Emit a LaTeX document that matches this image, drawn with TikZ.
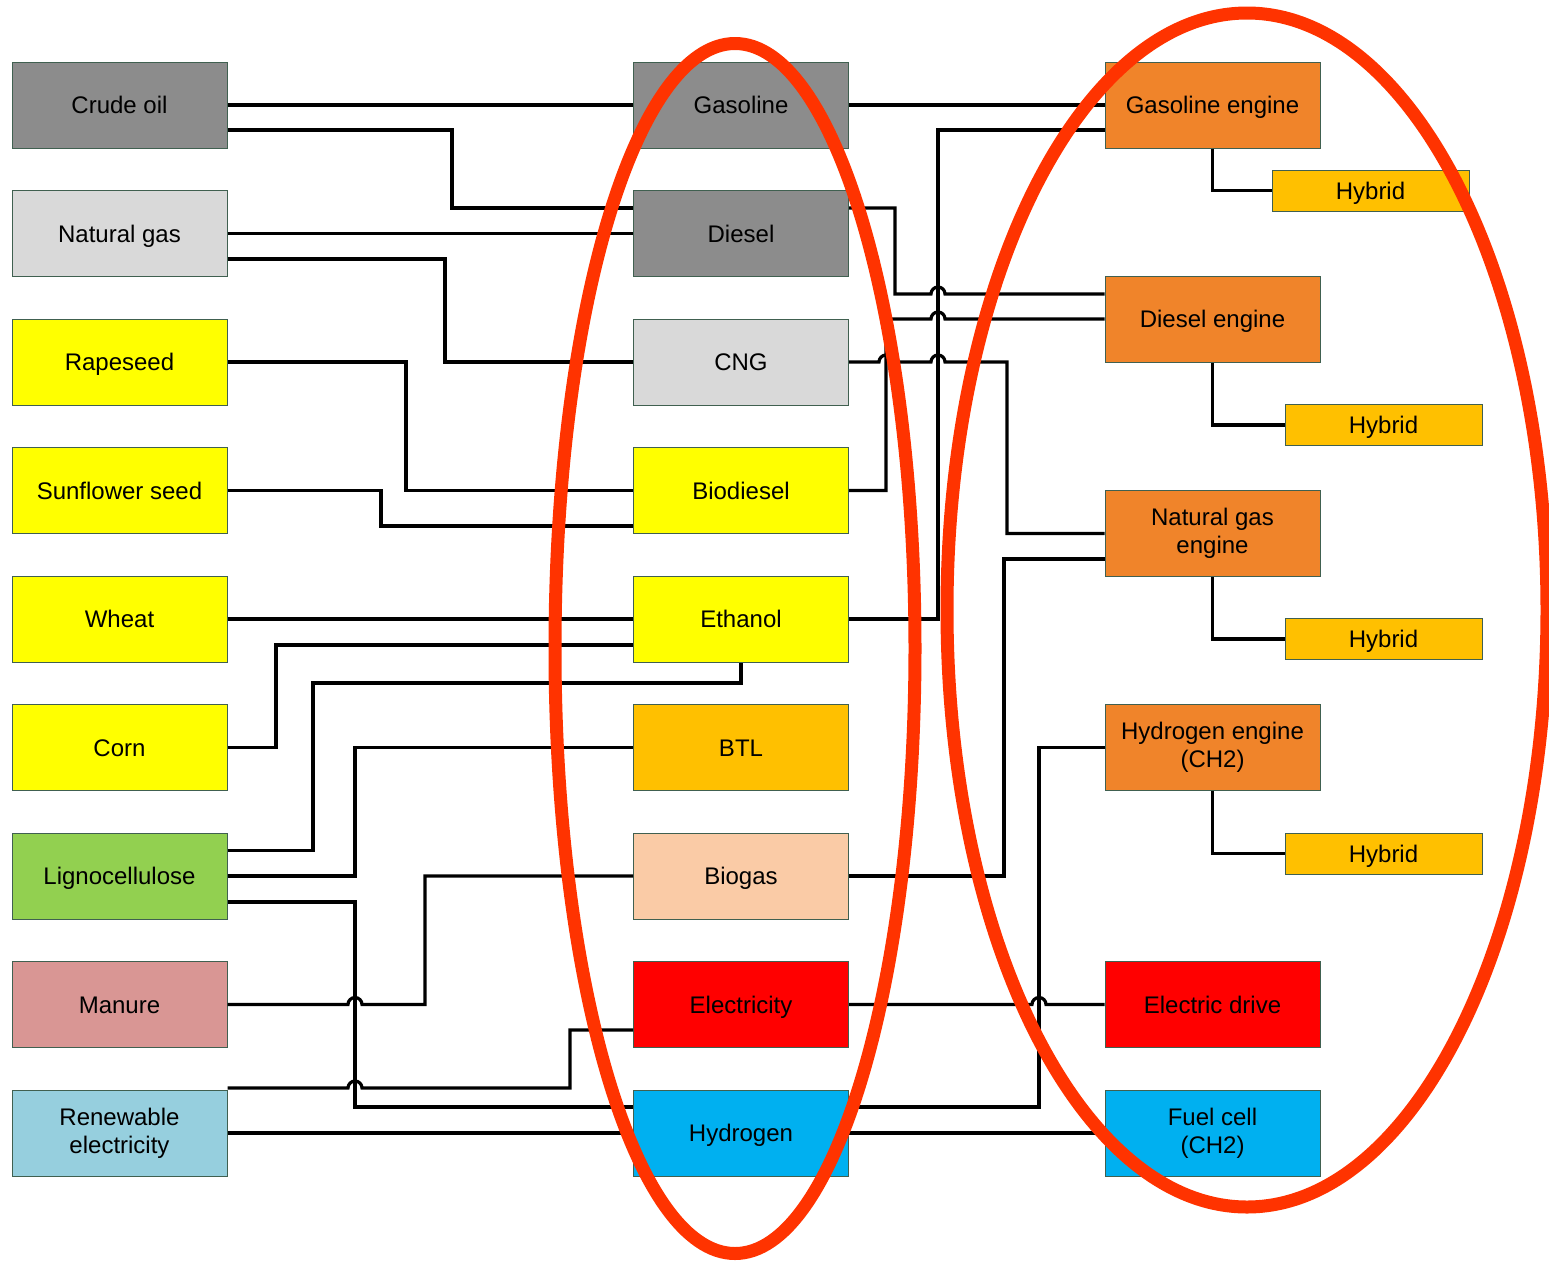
\documentclass[tikz,border=0pt]{standalone}
\usepackage{fontspec}
\setmainfont{Liberation Sans}
\usetikzlibrary{calc}
\definecolor{cGray}{HTML}{8C8C8C}
\definecolor{cLight}{HTML}{D9D9D9}
\definecolor{cYellow}{HTML}{FFFF00}
\definecolor{cGold}{HTML}{FFC000}
\definecolor{cGreen}{HTML}{92D050}
\definecolor{cManure}{HTML}{D99694}
\definecolor{cRenew}{HTML}{96CFDE}
\definecolor{cBiogas}{HTML}{FACBA6}
\definecolor{cRed}{HTML}{FF0000}
\definecolor{cCyan}{HTML}{00B0F0}
\definecolor{cEngine}{HTML}{F0842A}
\definecolor{cRing}{HTML}{FF3300}
\definecolor{cBorder}{RGB}{64,96,80}
\begin{document}
\begin{tikzpicture}[x=0.5pt,y=-0.5pt,
  box/.style={draw=cBorder, line width=0.5pt, minimum width=107.5pt, minimum height=43pt,
    inner sep=0pt, align=center, font=\fontsize{12}{14}\selectfont},
  one/.style={text height=8.8pt, text depth=0pt},
  hyb/.style={box, one, fill=cGold, minimum width=98.5pt, minimum height=20.5pt},
  conn/.style={line width=1.6pt, black},
  ring/.style={draw=cRing, line width=6.5pt}]
\useasboundingbox (0,0) rectangle (1549,1260);
% left column
\node[box, one, fill=cGray]   (crude)  at (119.5,105)   {Crude oil};
\node[box, one, fill=cLight]  (natgas) at (119.5,233.5) {Natural gas};
\node[box, one, fill=cYellow] (rape)   at (119.5,362)   {Rapeseed};
\node[box, one, fill=cYellow] (sun)    at (119.5,490.5) {Sunflower seed};
\node[box, one, fill=cYellow] (wheat)  at (119.5,619)   {Wheat};
\node[box, one, fill=cYellow] (corn)   at (119.5,747.5) {Corn};
\node[box, one, fill=cGreen]  (ligno)  at (119.5,876)   {Lignocellulose};
\node[box, one, fill=cManure] (manure) at (119.5,1004.5){Manure};
\node[box, fill=cRenew]  (renew)  at (119.5,1133)  {Renewable\\electricity};
% middle column
\node[box, one, fill=cGray]   (gasoline)  at (741,105)   {Gasoline};
\node[box, one, fill=cGray]   (diesel)    at (741,233.5) {Diesel};
\node[box, one, fill=cLight]  (cng)       at (741,362)   {CNG};
\node[box, one, fill=cYellow] (biodiesel) at (741,490.5) {Biodiesel};
\node[box, one, fill=cYellow] (ethanol)   at (741,619)   {Ethanol};
\node[box, one, fill=cGold]   (btl)       at (741,747.5) {BTL};
\node[box, one, fill=cBiogas] (biogas)    at (741,876)   {Biogas};
\node[box, one, fill=cRed]    (elec)      at (741,1004.5){Electricity};
\node[box, one, fill=cCyan]   (hydrogen)  at (741,1133)  {Hydrogen};
% right column
\node[box, one, fill=cEngine] (gaseng)  at (1212.5,105)   {Gasoline engine};
\node[box, one, fill=cEngine] (dieseng) at (1212.5,319)   {Diesel engine};
\node[box, fill=cEngine] (ngeng)   at (1212.5,533.5) {Natural gas\\engine};
\node[box, fill=cEngine] (h2eng)   at (1212.5,747.5) {Hydrogen engine\\(CH2)};
\node[box, one, fill=cRed]    (edrive)  at (1212.5,1004.5){Electric drive};
\node[box, fill=cCyan]   (fcell)   at (1212.5,1133)  {Fuel cell\\(CH2)};
\node[hyb] (hyb1) at (1370.5,190.5) {Hybrid};
\node[hyb] (hyb2) at (1383.5,425)   {Hybrid};
\node[hyb] (hyb3) at (1383.5,639)   {Hybrid};
\node[hyb] (hyb4) at (1383.5,853.5) {Hybrid};
% left connectors
\draw[conn] (crude.east) -- (gasoline.west);
\draw[conn] ($(crude.east)+(0,25)$) -| (452,208) -- ($(diesel.west)+(0,-25.5)$);
\draw[conn] (natgas.east) -- (diesel.west);
\draw[conn] ($(natgas.east)+(0,25.5)$) -| (445,362) -- (cng.west);
\draw[conn] (rape.east) -| (406,490.5) -- (biodiesel.west);
\draw[conn] (sun.east) -| (381,526) -- ($(biodiesel.west)+(0,35.5)$);
\draw[conn] (wheat.east) -- (ethanol.west);
\draw[conn] (corn.east) -| (276,645) -- ($(ethanol.west)+(0,26)$);
\draw[conn] ($(ligno.east)+(0,-25.5)$) -| (313,683) -| (ethanol.south);
\draw[conn] (ligno.east) -| (355,747.5) -- (btl.west);
\draw[conn] ($(ligno.east)+(0,26)$) -| (355,1107) -- ($(hydrogen.west)+(0,-26)$);
\draw[conn] (manure.east) -- (348,1004.5) arc[start angle=180,end angle=0,radius=3.5pt]
  -| (425,876) -- (biogas.west);
\draw[conn] ($(renew.east)+(0,-45)$) -- (348,1088) arc[start angle=180,end angle=0,radius=3.5pt]
  -| (570,1030) -- ($(elec.west)+(0,25.5)$);
\draw[conn] (renew.east) -- (hydrogen.west);
% right connectors
\draw[conn] (gasoline.east) -- (gaseng.west);
\draw[conn] (ethanol.east) -| (938,130) -- ($(gaseng.west)+(0,25)$);
\draw[conn] ($(diesel.east)+(0,-25.5)$) -| (895,294) -- (931,294)
  arc[start angle=180,end angle=0,radius=3.5pt] -- ($(dieseng.west)+(0,-25)$);
\draw[conn] (biodiesel.east) -| (886,319) -- (931,319)
  arc[start angle=180,end angle=0,radius=3.5pt] -- (dieseng.west);
\draw[conn] (cng.east) -- (879,362) arc[start angle=180,end angle=0,radius=3.5pt]
  -- (931,362) arc[start angle=180,end angle=0,radius=3.5pt]
  -| (1007,533.5) -- (ngeng.west);
\draw[conn] (biogas.east) -| (1004,559) -- ($(ngeng.west)+(0,25.5)$);
\draw[conn] ($(hydrogen.east)+(0,-26)$) -| (1039,747.5) -- (h2eng.west);
\draw[conn] (elec.east) -- (1032,1004.5) arc[start angle=180,end angle=0,radius=3.5pt]
  -- (edrive.west);
\draw[conn] (hydrogen.east) -- (fcell.west);
\draw[conn] (gaseng.south) |- (hyb1.west);
\draw[conn] (dieseng.south) |- (hyb2.west);
\draw[conn] (ngeng.south) |- (hyb3.west);
\draw[conn] (h2eng.south) |- (hyb4.west);
% rings
\draw[ring] (735,648.5) ellipse [x radius=90pt, y radius=302.5pt];
\draw[ring] (1247,610) ellipse [x radius=150pt, y radius=298.5pt];
\end{tikzpicture}
\end{document}
